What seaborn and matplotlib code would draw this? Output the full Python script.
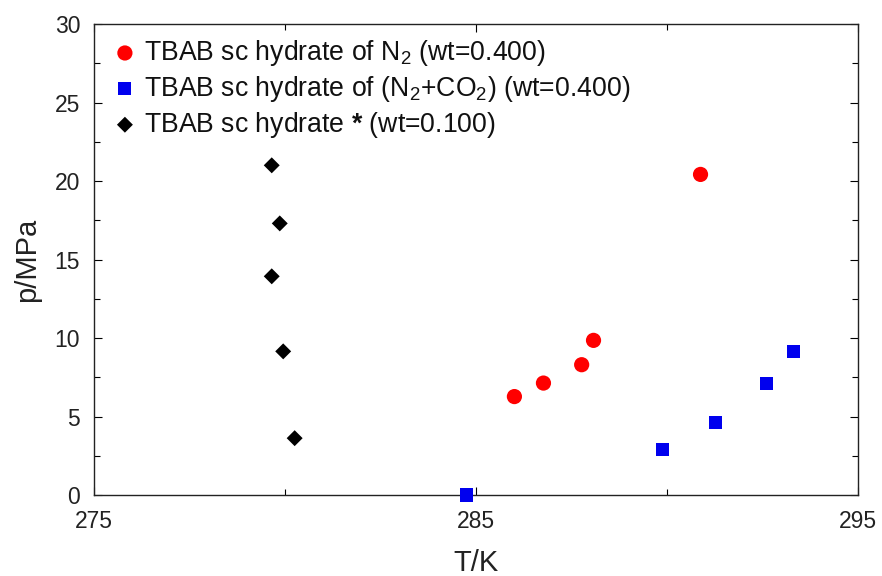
import matplotlib
matplotlib.use("Agg")
import matplotlib.pyplot as plt
import seaborn as sns
import pandas as pd
from matplotlib.ticker import MultipleLocator

sns.set_theme(style="white")
plt.rcParams['font.family'] = ['Liberation Sans', 'DejaVu Sans']
plt.rcParams['mathtext.fontset'] = 'custom'
plt.rcParams['mathtext.rm'] = 'Liberation Sans'
plt.rcParams['mathtext.bf'] = 'Liberation Sans:bold'

# Data
n2_T = [286.0, 286.76, 287.76, 288.07, 290.87]
n2_p = [6.27, 7.13, 8.30, 9.85, 20.42]
mix_T = [284.75, 289.88, 291.26, 292.60, 293.30]
mix_p = [0.0, 2.87, 4.61, 7.08, 9.14]
ref_T = [279.65, 279.86, 279.65, 279.95, 280.25]
ref_p = [21.0, 17.3, 13.93, 9.15, 3.62]

labels = [r"TBAB sc hydrate of N$_\mathregular{2}$ (wt=0.400)",
          r"TBAB sc hydrate of (N$_\mathregular{2}$+CO$_\mathregular{2}$) (wt=0.400)",
          r"TBAB sc hydrate $\mathbf{*}$ (wt=0.100)"]
x_ticks = [275, 285, 295]
y_ticks = [0, 5, 10, 15, 20, 25, 30]

df_n2 = pd.DataFrame({"T": n2_T, "p": n2_p})
df_mix = pd.DataFrame({"T": mix_T, "p": mix_p})
df_ref = pd.DataFrame({"T": ref_T, "p": ref_p})

fig = plt.figure(figsize=(8.82, 5.76), dpi=100)
ax = fig.add_axes([0.1066, 0.1406, 0.8666, 0.8177])

sns.scatterplot(data=df_n2, x="T", y="p", ax=ax, color="#ff0000", marker="o",
                s=120, edgecolor="none", label=labels[0], clip_on=False, zorder=3)
sns.scatterplot(data=df_mix, x="T", y="p", ax=ax, color="#0000ee", marker="s",
                s=88, edgecolor="none", label=labels[1], clip_on=False, zorder=3)
sns.scatterplot(data=df_ref, x="T", y="p", ax=ax, color="black", marker="D",
                s=66, edgecolor="none", label=labels[2], clip_on=False, zorder=3)

ax.set_xlim(275, 295)
ax.set_ylim(0, 30)
ax.set_xticks(x_ticks)
ax.set_yticks(y_ticks)
ax.xaxis.set_minor_locator(MultipleLocator(5))
ax.yaxis.set_minor_locator(MultipleLocator(2.5))
ax.tick_params(which="both", direction="in", top=True, right=True,
               bottom=True, left=True, color="black", width=0.8)
ax.tick_params(which="major", length=6, labelsize=16.5, labelcolor="#222222")
ax.tick_params(which="minor", length=4)
ax.tick_params(axis="x", which="major", pad=11)
ax.tick_params(axis="y", which="major", pad=10)
for sp in ax.spines.values():
    sp.set_color("#222222")
    sp.set_linewidth(1.0)

ax.set_xlabel("T/K", fontsize=21, labelpad=11, color="#222222")
ax.set_ylabel("p/MPa", fontsize=21, labelpad=10, color="#222222")

leg = ax.legend(loc="upper left", bbox_to_anchor=(0.0125, 0.993), frameon=False,
                fontsize=19.2, handletextpad=0.3, labelspacing=0.22,
                borderaxespad=0.0, handlelength=0.8, markerscale=1.0)
for t in leg.get_texts():
    t.set_color("#111111")

fig.savefig("out.png", dpi=100)
